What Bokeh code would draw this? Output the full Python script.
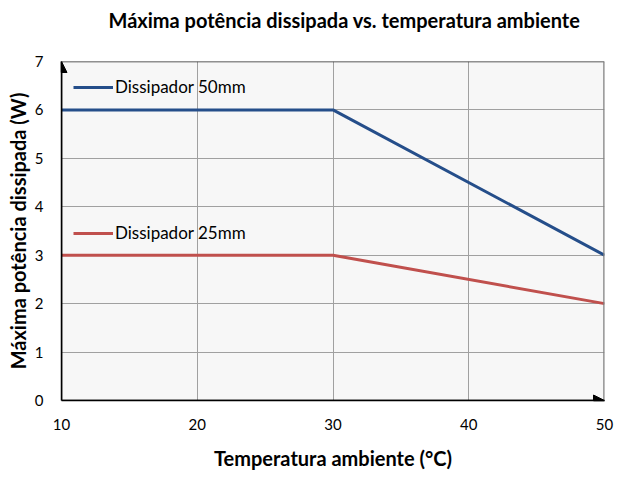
from bokeh.plotting import figure
from bokeh.models import Range1d, Arrow, NormalHead, Legend, LegendItem, FixedTicker, Title, Span
from bokeh.embed import file_html
from bokeh.resources import INLINE

# Data
temp = [10, 30, 50]
pot_50mm = [6, 6, 3]
pot_25mm = [3, 3, 2]
x_ticks = [10, 20, 30, 40, 50]
y_ticks = [0, 1, 2, 3, 4, 5, 6, 7]
label_50 = "Dissipador 50mm"
label_25 = "Dissipador 25mm"
title_text = "Máxima potência dissipada vs. temperatura ambiente"
x_title = "Temperatura ambiente (°C)"
y_title = "Máxima potência dissipada (W)"

FONT = "Lato"
BLUE = "#254E8A"
RED = "#C0504D"

p = figure(width=621, height=472, output_backend="svg", toolbar_location=None,
           x_range=Range1d(x_ticks[0], x_ticks[-1]), y_range=Range1d(y_ticks[0], y_ticks[-1]),
           min_border_left=61, min_border_right=17, min_border_top=61, min_border_bottom=71)

p.title.text = title_text
p.title.text_font = FONT
p.title.text_font_size = "20px"
p.title.text_font_style = "bold"
p.title.align = "left"
p.title.offset = 47
p.title.text_color = "black"

# blank spacer title that pushes the main title upward
p.add_layout(Title(text=" ", text_font=FONT, text_font_size="11px"), "above")

p.background_fill_color = "#F7F7F7"
p.border_fill_color = "white"
p.outline_line_color = None

for ax in (p.xaxis[0], p.yaxis[0]):
    ax.major_tick_in = 0
    ax.major_tick_out = 0
    ax.minor_tick_in = 0
    ax.minor_tick_out = 0
    ax.axis_line_color = "black"
    ax.axis_line_width = 1.5
    ax.major_label_text_font = FONT
    ax.major_label_text_font_size = "15px"
    ax.major_label_text_color = "black"
    ax.axis_label_text_font = FONT
    ax.axis_label_text_font_size = "20px"
    ax.axis_label_text_font_style = "bold"
    ax.axis_label_text_color = "black"

p.xaxis.ticker = FixedTicker(ticks=x_ticks)
p.yaxis.ticker = FixedTicker(ticks=y_ticks)
p.xaxis.axis_label = x_title
p.yaxis.axis_label = y_title
p.xaxis.major_label_standoff = 18
p.xaxis.axis_label_standoff = 13
p.yaxis.major_label_standoff = 18
p.yaxis.axis_label_standoff = 2

p.xgrid.ticker = FixedTicker(ticks=x_ticks)
p.ygrid.ticker = FixedTicker(ticks=y_ticks)
p.xgrid.grid_line_color = "#A0A0A0"
p.ygrid.grid_line_color = "#A0A0A0"
p.xgrid.grid_line_width = 1
p.ygrid.grid_line_width = 1

# frame borders: dark top, grey right
p.add_layout(Span(location=y_ticks[-1], dimension="width", line_color="#262626", line_width=1.5))
p.add_layout(Span(location=x_ticks[-1], dimension="height", line_color="#808080", line_width=2.5))

r50 = p.line(temp, pot_50mm, line_color=BLUE, line_width=3)
r25 = p.line(temp, pot_25mm, line_color=RED, line_width=3)

# axis arrows
p.add_layout(Arrow(end=NormalHead(size=11, fill_color="black", line_color="black"),
                   x_start=x_ticks[0], y_start=y_ticks[0], x_end=x_ticks[-1], y_end=y_ticks[0],
                   line_color="black", line_width=1.5))
p.add_layout(Arrow(end=NormalHead(size=11, fill_color="black", line_color="black"),
                   x_start=x_ticks[0], y_start=y_ticks[0], x_end=x_ticks[0], y_end=y_ticks[-1],
                   line_color="black", line_width=1.5))

def make_legend(item_label, renderer, loc):
    lg = Legend(items=[LegendItem(label=item_label, renderers=[renderer])],
                location=loc, background_fill_alpha=0, border_line_alpha=0,
                padding=0, margin=0, spacing=0,
                glyph_width=40, glyph_height=20, label_height=20, label_standoff=2,
                label_text_font=FONT, label_text_font_size="17px", label_text_color="black")
    return lg

p.add_layout(make_legend(label_50, r50, (12, 303)))
p.add_layout(make_legend(label_25, r25, (12, 157)))

open("out.html", "w").write(file_html(p, INLINE))
